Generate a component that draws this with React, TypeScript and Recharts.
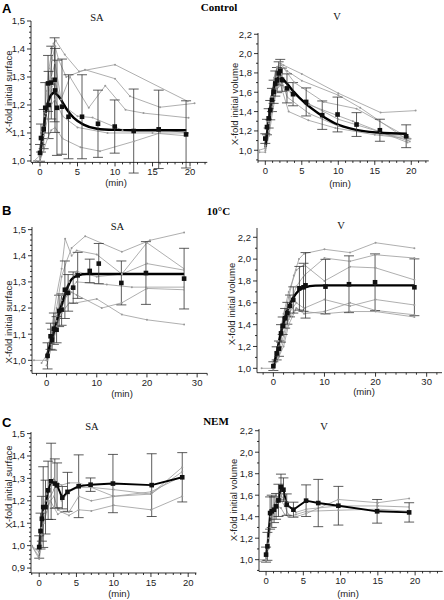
import { ComposedChart, Line, Scatter, ErrorBar, XAxis, YAxis } from "recharts"

type Pt = [number, number]
type MPt = [number, number, number]

// ---- A: Control, surface (SA)
const ctrlSaTraces: Pt[][] = [
  [[-0.8, 1.0], [0, 1.02], [0.3, 1.08], [0.6, 1.16], [0.9, 1.25], [1.2, 1.33], [1.5, 1.38], [1.8, 1.42], [2.1, 1.43], [3.3, 1.38], [5.2, 1.32], [10, 1.344], [19.7, 1.213]],
  [[0, 1.0], [0.4, 1.07], [0.8, 1.17], [1.2, 1.27], [1.6, 1.36], [2.0, 1.41], [2.5, 1.36], [3.5, 1.3], [6, 1.326], [10, 1.294], [12, 1.231], [16, 1.192], [20.6, 1.206]],
  [[0, 1.01], [0.5, 1.1], [1, 1.2], [1.5, 1.3], [2, 1.35], [2.8, 1.22], [4, 1.3], [6.5, 1.19], [8.7, 1.269], [11.4, 1.183], [13.8, 1.171], [19.8, 1.154]],
  [[0, 1.03], [0.5, 1.12], [1, 1.2], [1.5, 1.26], [2, 1.28], [3, 1.2], [5, 1.16], [7, 1.155], [11, 1.11], [15.8, 1.114], [19.7, 1.1]],
  [[0, 1.02], [0.5, 1.09], [1, 1.15], [1.5, 1.2], [2, 1.22], [3, 1.16], [5, 1.12], [9, 1.1], [15, 1.1], [19.5, 1.09]],
  [[-0.5, 1.0], [0, 1.0], [0.5, 1.04], [1, 1.08], [1.5, 1.11], [2, 1.12], [3, 1.08], [5.4, 1.049], [8, 1.035], [12.5, 1.07], [16, 1.1], [19.6, 1.1]],
]
const ctrlSaMean: MPt[] = [
  [0, 1.029, 0.03], [0.13, 1.082, 0.05], [0.49, 1.114, 0.07], [0.7, 1.19, 0.09], [1.07, 1.277, 0.1],
  [1.15, 1.2, 0.12], [1.5, 1.28, 0.13], [1.95, 1.29, 0.15], [2.0, 1.252, 0.15], [2.26, 1.19, 0.17],
  [2.93, 1.194, 0.17], [3.8, 1.158, 0.15], [5.6, 1.158, 0.15], [7.73, 1.133, 0.12], [9.96, 1.123, 0.095],
  [12.49, 1.107, 0.15], [15.82, 1.113, 0.14], [19.47, 1.095, 0.12],
]
const ctrlSaFit: Pt[] = [
  [0, 1.017], [0.5, 1.124], [0.93, 1.195], [1.38, 1.231], [1.82, 1.243], [2.27, 1.237], [2.93, 1.213],
  [3.6, 1.183], [4.5, 1.154], [5.8, 1.13], [7.6, 1.115], [9.8, 1.111], [12.5, 1.11], [19.5, 1.11],
]

// ---- A: Control, volume (V)
const ctrlVTraces: Pt[][] = [
  [[-0.9, 1.0], [0, 1.02], [0.4, 1.25], [0.8, 1.5], [1.2, 1.72], [1.6, 1.85], [2.0, 1.91], [2.5, 1.88], [5, 1.79], [10, 1.59], [15.8, 1.39], [20.6, 1.41]],
  [[0, 1.03], [0.4, 1.3], [0.8, 1.55], [1.2, 1.75], [1.6, 1.86], [2.2, 1.88], [3, 1.82], [5, 1.72], [10, 1.57], [13, 1.44], [19.8, 1.09]],
  [[0, 1.05], [0.5, 1.3], [1, 1.55], [1.5, 1.74], [2, 1.82], [2.5, 1.85], [4, 1.7], [8, 1.5], [12.5, 1.43], [19.9, 1.12]],
  [[0, 1.02], [0.5, 1.28], [1, 1.5], [1.5, 1.7], [2, 1.8], [3.5, 1.6], [6, 1.48], [10, 1.32], [15.7, 1.19], [19.5, 1.1]],
  [[0, 1.0], [0.5, 1.2], [1, 1.45], [1.5, 1.65], [2, 1.75], [3, 1.55], [6, 1.38], [10, 1.25], [16, 1.16], [19.6, 1.14]],
  [[-0.8, 0.98], [0, 0.98], [0.5, 1.15], [1, 1.4], [1.5, 1.6], [2, 1.7], [3.2, 1.4], [5.9, 1.31], [9.6, 1.23], [15, 1.16], [19.7, 1.12]],
  [[0, 1.05], [0.5, 1.25], [1, 1.5], [1.5, 1.63], [2.3, 1.68], [3, 1.62], [6, 1.47], [12, 1.3], [19.5, 1.08]],
]
const ctrlVMean: MPt[] = [
  [0, 1.121, 0.05], [0.23, 1.24, 0.08], [0.46, 1.33, 0.1], [0.68, 1.415, 0.1], [0.91, 1.52, 0.12],
  [1.14, 1.605, 0.12], [1.37, 1.69, 0.13], [1.6, 1.726, 0.13], [1.83, 1.795, 0.12], [2.05, 1.82, 0.12],
  [2.28, 1.73, 0.12], [2.97, 1.64, 0.15], [3.8, 1.58, 0.12], [5.6, 1.5, 0.145], [7.8, 1.363, 0.147],
  [9.9, 1.37, 0.18], [12.5, 1.266, 0.123], [15.7, 1.207, 0.114], [19.3, 1.145, 0.118],
]
const ctrlVFit: Pt[] = [
  [0, 1.035], [0.46, 1.31], [0.91, 1.553], [1.37, 1.7], [1.83, 1.75], [2.28, 1.743], [2.97, 1.69],
  [3.9, 1.605], [5.5, 1.484], [7.3, 1.38], [9.6, 1.277], [12.3, 1.214], [15.5, 1.183], [19.4, 1.17],
]

// ---- B: 10°C, surface (SA)
const coldSaTraces: Pt[][] = [
  [[-2.5, 1.0], [0, 1.0], [1, 1.09], [2, 1.2], [3, 1.32], [4, 1.38], [5, 1.43], [7.7, 1.475], [15, 1.415], [20.6, 1.459], [27.4, 1.489]],
  [[-1, 0.99], [0, 1.02], [1, 1.12], [2, 1.25], [3, 1.35], [3.7, 1.465], [5, 1.4], [6, 1.42], [10, 1.405], [15, 1.33], [20, 1.45], [27.4, 1.35]],
  [[0, 1.0], [1, 1.08], [2, 1.15], [3, 1.25], [4.5, 1.3], [6, 1.34], [10, 1.32], [15, 1.33], [20, 1.37], [27.4, 1.345]],
  [[0, 0.98], [1, 1.05], [2, 1.12], [3, 1.2], [4.5, 1.27], [6, 1.3], [12, 1.29], [17, 1.28], [27.4, 1.28]],
  [[0, 1.01], [1, 1.1], [2, 1.17], [3, 1.23], [5, 1.26], [6, 1.25], [11, 1.2], [15, 1.22], [20, 1.275], [27.4, 1.27]],
  [[0, 1.0], [1, 1.06], [2, 1.13], [3, 1.18], [4.5, 1.22], [6, 1.22], [10, 1.235], [15, 1.175], [20, 1.155], [27.4, 1.137]],
]
const coldSaMean: MPt[] = [
  [0.2, 1.017, 0.05], [0.8, 1.092, 0.05], [1.1, 1.079, 0.04], [1.46, 1.121, 0.06], [2.0, 1.117, 0.05],
  [2.5, 1.189, 0.06], [3.0, 1.194, 0.06], [3.65, 1.27, 0.11], [4.3, 1.258, 0.07], [5.3, 1.278, 0.06],
  [6.2, 1.325, 0.088], [8.6, 1.342, 0.045], [10.4, 1.37, 0.077], [14.9, 1.296, 0.084], [19.8, 1.334, 0.12],
  [27.4, 1.3125, 0.116],
]
const coldSaFit: Pt[] = [
  [0, 1.013], [1.33, 1.1], [2.65, 1.19], [4, 1.27], [5, 1.31], [6.3, 1.325], [8, 1.33], [10.6, 1.33], [27.4, 1.33],
]

// ---- B: 10°C, volume (V)
const coldVTraces: Pt[][] = [
  [[-2.3, 1.0], [0, 1.0], [1, 1.2], [2, 1.45], [3, 1.65], [4, 1.85], [5, 2.0], [6, 2.05], [10, 2.09], [15, 2.06], [20, 2.15], [27.6, 2.1]],
  [[0, 1.05], [1, 1.25], [2, 1.5], [3, 1.7], [4.5, 1.9], [6, 1.95], [10, 1.8], [15, 1.93], [20, 1.92], [27.6, 1.81]],
  [[0, 1.0], [1, 1.18], [2, 1.4], [3, 1.55], [4.5, 1.75], [6, 1.85], [10, 2.01], [15, 1.98], [20, 2.04], [27.6, 2.01]],
  [[0, 1.03], [1, 1.15], [2, 1.3], [3, 1.5], [4.5, 1.6], [6, 1.55], [10, 1.63], [15, 1.57], [20, 1.63], [27.6, 1.58]],
  [[0, 0.99], [1, 1.1], [2, 1.25], [3, 1.45], [4.5, 1.55], [6, 1.5], [10, 1.52], [15, 1.6], [20, 1.53], [27.6, 1.49]],
  [[0, 1.0], [1, 1.1], [2, 1.2], [3, 1.4], [4.5, 1.55], [6, 1.52], [10, 1.5], [15, 1.52], [20, 1.52], [27.6, 1.47]],
]
const coldVMean: MPt[] = [
  [0, 1.02, 0.04], [0.65, 1.137, 0.06], [1.1, 1.18, 0.07], [1.5, 1.32, 0.08], [1.83, 1.39, 0.08],
  [2.3, 1.458, 0.09], [2.74, 1.504, 0.1], [3.26, 1.571, 0.1], [3.9, 1.626, 0.12], [5.1, 1.733, 0.2],
  [5.9, 1.742, 0.22], [6.3, 1.76, 0.3], [10.2, 1.748, 0.25], [14.8, 1.77, 0.26], [19.9, 1.788, 0.26],
  [27.6, 1.742, 0.26],
]
const coldVFit: Pt[] = [
  [0, 1.02], [0.65, 1.137], [1.3, 1.29], [1.96, 1.41], [2.9, 1.55], [3.9, 1.647], [4.9, 1.71],
  [6.2, 1.742], [8.2, 1.757], [10.8, 1.76], [27.6, 1.76],
]

// ---- C: NEM, surface (SA)
const nemSaTraces: Pt[][] = [
  [[-1, 1.0], [0, 0.95], [0.3, 1.05], [0.6, 1.15], [1, 1.2], [1.5, 1.22], [2, 1.25], [2.5, 1.28], [3, 1.27], [4, 1.28], [5.3, 1.28], [7, 1.26], [10, 1.25], [15, 1.23], [19.2, 1.35]],
  [[-1, 1.0], [0, 0.94], [0.3, 1.0], [0.6, 1.1], [1, 1.15], [1.5, 1.2], [2, 1.22], [2.5, 1.16], [3, 1.15], [4, 1.15], [5.3, 1.22], [7, 1.2], [10, 1.22], [15, 1.23], [19.2, 1.33]],
  [[-1, 1.0], [0, 0.97], [0.3, 1.05], [0.6, 1.12], [1, 1.17], [1.5, 1.2], [2, 1.17], [2.5, 1.14], [3, 1.15], [4, 1.135], [5.3, 1.16], [7, 1.155], [10, 1.18], [15, 1.16], [19.2, 1.22]],
  [[0, 1.0], [0.3, 1.08], [0.6, 1.18], [1, 1.23], [1.5, 1.28], [2, 1.3], [2.5, 1.27], [3, 1.2], [4, 1.24], [5.3, 1.26], [7, 1.26], [10, 1.22], [15, 1.24], [19.2, 1.31]],
]
const nemSaMean: MPt[] = [
  [0, 0.994, 0.05], [0.18, 1.065, 0.08], [0.36, 1.12, 0.1], [0.54, 1.172, 0.18], [0.85, 1.172, 0.12],
  [1.2, 1.247, 0.13], [1.6, 1.287, 0.17], [2.1, 1.277, 0.11], [2.4, 1.269, 0.1], [3.1, 1.214, 0.05],
  [3.8, 1.24, 0.087], [5.3, 1.265, 0.14], [6.9, 1.272, 0.03], [9.9, 1.277, 0.13], [15.1, 1.27, 0.14],
  [19.2, 1.305, 0.11],
]

// ---- C: NEM, volume (V)
const nemVTraces: Pt[][] = [
  [[-1, 1.0], [0, 1.0], [0.3, 1.1], [0.6, 1.3], [1, 1.45], [1.5, 1.52], [2, 1.55], [2.5, 1.5], [3, 1.42], [4, 1.4], [5.4, 1.43], [9.7, 1.56], [15, 1.53], [19.2, 1.57]],
  [[-1, 0.98], [0, 1.0], [0.3, 1.15], [0.6, 1.35], [1, 1.5], [1.5, 1.58], [2, 1.6], [2.5, 1.55], [3, 1.49], [4, 1.44], [5.4, 1.47], [9.7, 1.5], [15, 1.5], [19.2, 1.49]],
  [[0, 1.02], [0.3, 1.2], [0.6, 1.4], [1, 1.47], [1.5, 1.5], [2, 1.48], [2.5, 1.42], [3, 1.4], [4, 1.42], [5.4, 1.45], [9.7, 1.46], [15, 1.47], [19.2, 1.45]],
]
const nemVMean: MPt[] = [
  [0, 1.047, 0.07], [0.18, 1.124, 0.13], [0.54, 1.434, 0.15], [0.76, 1.45, 0.15], [1.07, 1.465, 0.12],
  [1.34, 1.496, 0.12], [1.66, 1.552, 0.15], [2.0, 1.676, 0.12], [2.33, 1.651, 0.11], [2.77, 1.512, 0.1],
  [3.67, 1.465, 0.07], [5.37, 1.549, 0.147], [7.0, 1.527, 0.22], [9.7, 1.502, 0.18], [14.9, 1.45, 0.11],
  [19.2, 1.44, 0.09],
]

// ---- axis ticks
const min20Ticks = [0, 5, 10, 15, 20]
const min30Ticks = [0, 10, 20, 30]
const surfTicks = [1.0, 1.1, 1.2, 1.3, 1.4, 1.5]
const surfTicksNem = [0.9, 1.0, 1.1, 1.2, 1.3, 1.4, 1.5]
const volTicks = [1.0, 1.2, 1.4, 1.6, 1.8, 2.0, 2.2]

const SANS = "'Liberation Sans', Arial, sans-serif"
const SERIF = "'Liberation Serif', 'Times New Roman', serif"
const GREY = "#9a9a9a"
const PAD_L = 40, PAD_T = 8, PAD_R = 8, PAD_B = 24
const TL = 4, TM = 2

interface PanelDef {
  traces: Pt[][]
  mean: MPt[]
  fit?: Pt[]
  x: number; y: number; w: number; h: number
  xDomain: [number, number]; yDomain: [number, number]
  xTicks: number[]; xMinor: number
  yTicks: number[]; yMinor: number
}

const panels: PanelDef[] = [
  { traces: ctrlSaTraces, mean: ctrlSaMean, fit: ctrlSaFit, x: 30.7, y: 21, w: 176.3, h: 141.4,
    xDomain: [-1.2, 22.3], yDomain: [0.995, 1.5], xTicks: min20Ticks, xMinor: 1, yTicks: surfTicks, yMinor: 0.02 },
  { traces: ctrlVTraces, mean: ctrlVMean, fit: ctrlVFit, x: 258, y: 32.7, w: 170.8, h: 127.9,
    xDomain: [-1.0, 22.4], yDomain: [0.89, 2.213], xTicks: min20Ticks, xMinor: 1, yTicks: volTicks, yMinor: 0.1 },
  { traces: coldSaTraces, mean: coldSaMean, fit: coldSaFit, x: 32.1, y: 226.7, w: 175.2, h: 146.4,
    xDomain: [-2.9, 32], yDomain: [0.95, 1.51], xTicks: min30Ticks, xMinor: 2, yTicks: surfTicks, yMinor: 0.02 },
  { traces: coldVTraces, mean: coldVMean, fit: coldVFit, x: 257.3, y: 228, w: 185, h: 144.7,
    xDomain: [-3.2, 33], yDomain: [0.96, 2.285], xTicks: min30Ticks, xMinor: 2, yTicks: volTicks, yMinor: 0.1 },
  { traces: nemSaTraces, mean: nemSaMean, x: 31.1, y: 431.7, w: 165.4, h: 141,
    xDomain: [-1.1, 21.1], yDomain: [0.878, 1.507], xTicks: min20Ticks, xMinor: 1, yTicks: surfTicksNem, yMinor: 0.02 },
  { traces: nemVTraces, mean: nemVMean, x: 259.2, y: 429.3, w: 183.7, h: 142.4,
    xDomain: [-0.95, 23.7], yDomain: [0.891, 2.216], xTicks: min20Ticks, xMinor: 1, yTicks: volTicks, yMinor: 0.1 },
]

function allTicks(domain: [number, number], step: number) {
  const out: number[] = []
  for (let k = Math.ceil(domain[0] / step - 1e-9); k * step <= domain[1] + 1e-9; k++) {
    out.push(Math.round(k * step * 1000) / 1000)
  }
  return out
}

const isMajor = (majors: number[], v: number) => majors.some((m) => Math.abs(m - v) < 1e-6)

function XTick(props: any) {
  const { x, y, payload, majors } = props
  const ay = y - TL - TM
  const major = isMajor(majors, payload.value)
  return (
    <g>
      <line x1={x} x2={x} y1={ay} y2={ay + (major ? 4 : 2)} stroke="#000" strokeWidth={0.8} />
      {major && (
        <text x={x} y={ay + 6} dy="0.71em" textAnchor="middle" fontSize={9.5} fontFamily={SANS} fill="#222">
          {payload.value}
        </text>
      )}
    </g>
  )
}

function YTick(props: any) {
  const { x, y, payload, majors } = props
  const ax = x + TL + TM
  const major = isMajor(majors, payload.value)
  return (
    <g>
      <line x1={ax} x2={ax - (major ? 4 : 2)} y1={y} y2={y} stroke="#000" strokeWidth={0.8} />
      {major && (
        <text x={ax - 6} y={y} dy="0.355em" textAnchor="end" fontSize={9.5} fontFamily={SANS} fill="#222">
          {payload.value.toFixed(1).replace(".", ",")}
        </text>
      )}
    </g>
  )
}

function Square(props: any) {
  const { cx, cy } = props
  if (cx == null || cy == null) return null
  return <rect x={cx - 2.3} y={cy - 2.3} width={4.6} height={4.6} fill="#111" />
}

const toXY = (pts: Pt[]) => pts.map(([x, y]) => ({ x, y }))

function Panel({ p }: { p: PanelDef }) {
  const width = p.w + PAD_L + PAD_R
  const height = p.h + PAD_T + PAD_B
  return (
    <div style={{ position: "absolute", left: p.x - PAD_L, top: p.y - PAD_T }}>
      <ComposedChart width={width} height={height} margin={{ top: PAD_T, right: PAD_R, left: 0, bottom: 0 }}>
        <XAxis
          type="number"
          dataKey="x"
          domain={p.xDomain}
          allowDataOverflow
          ticks={allTicks(p.xDomain, p.xMinor)}
          interval={0}
          height={PAD_B}
          tickSize={TL}
          tickMargin={TM}
          tickLine={false}
          axisLine={{ stroke: "#000", strokeWidth: 0.8 }}
          tick={<XTick majors={p.xTicks} />}
        />
        <YAxis
          type="number"
          dataKey="y"
          domain={p.yDomain}
          allowDataOverflow
          ticks={allTicks(p.yDomain, p.yMinor)}
          interval={0}
          width={PAD_L}
          tickSize={TL}
          tickMargin={TM}
          tickLine={false}
          axisLine={{ stroke: "#000", strokeWidth: 0.8 }}
          tick={<YTick majors={p.yTicks} />}
        />
        {p.traces.map((t, i) => (
          <Line
            key={i}
            data={toXY(t)}
            dataKey="y"
            type="linear"
            stroke={GREY}
            strokeWidth={0.8}
            dot={{ r: 1, fill: GREY, stroke: "none" }}
            isAnimationActive={false}
          />
        ))}
        {p.fit ? (
          <Line data={toXY(p.fit)} dataKey="y" type="monotone" stroke="#000" strokeWidth={2.4} dot={false} isAnimationActive={false} />
        ) : (
          <Line data={p.mean.map(([x, y]) => ({ x, y }))} dataKey="y" type="linear" stroke="#000" strokeWidth={1.9} dot={false} isAnimationActive={false} />
        )}
        <Scatter data={p.mean.map(([x, y, e]) => ({ x, y, e }))} shape={<Square />} isAnimationActive={false}>
          <ErrorBar dataKey="e" direction="y" width={5} stroke="#333" strokeWidth={0.8} />
        </Scatter>
      </ComposedChart>
    </div>
  )
}

const txt = { fontFamily: SANS, fontSize: 9.5, fill: "#222" }

export default function App() {
  return (
    <div style={{ position: "absolute", left: 0, top: 0, width: 444, height: 600, overflow: "hidden", background: "#fff" }}>
      {panels.map((p, i) => (
        <Panel key={i} p={p} />
      ))}
      <svg width={444} height={600} style={{ position: "absolute", left: 0, top: 0, pointerEvents: "none" }}>
        <g fontFamily={SANS} fontWeight="bold" fontSize={13} fill="#000">
          <text x={2} y={13}>A</text>
          <text x={2} y={215}>B</text>
          <text x={2} y={427}>C</text>
        </g>
        <g fontFamily={SERIF} fontWeight="bold" fontSize={11} fill="#000" textAnchor="middle">
          <text x={219} y={11}>Control</text>
          <text x={218.5} y={215}>10°C</text>
          <text x={216} y={425}>NEM</text>
        </g>
        <g fontFamily={SERIF} fontSize={10.5} fill="#111" textAnchor="middle">
          <text x={97} y={21}>SA</text>
          <text x={337} y={20}>V</text>
          <text x={117.5} y={230}>SA</text>
          <text x={341} y={229}>V</text>
          <text x={92} y={430}>SA</text>
          <text x={324} y={430}>V</text>
        </g>
        <g {...txt} textAnchor="middle">
          <text x={116} y={186}>(min)</text>
          <text x={340} y={187}>(min)</text>
          <text x={122} y={397}>(min)</text>
          <text x={364} y={395}>(min)</text>
          <text x={119} y={597}>(min)</text>
          <text x={348} y={597}>(min)</text>
        </g>
        <g {...txt} textAnchor="middle" dominantBaseline="central">
          <text transform="translate(8,92) rotate(-90)">X-fold initial surface</text>
          <text transform="translate(234,104) rotate(-90)">X-fold initial volume</text>
          <text transform="translate(8,322) rotate(-90)">X-fold initial surface</text>
          <text transform="translate(231,304) rotate(-90)">X-fold initial volume</text>
          <text transform="translate(8,487) rotate(-90)">X-fold initial surface</text>
          <text transform="translate(233,500) rotate(-90)">X-fold initial volume</text>
        </g>
      </svg>
    </div>
  )
}
